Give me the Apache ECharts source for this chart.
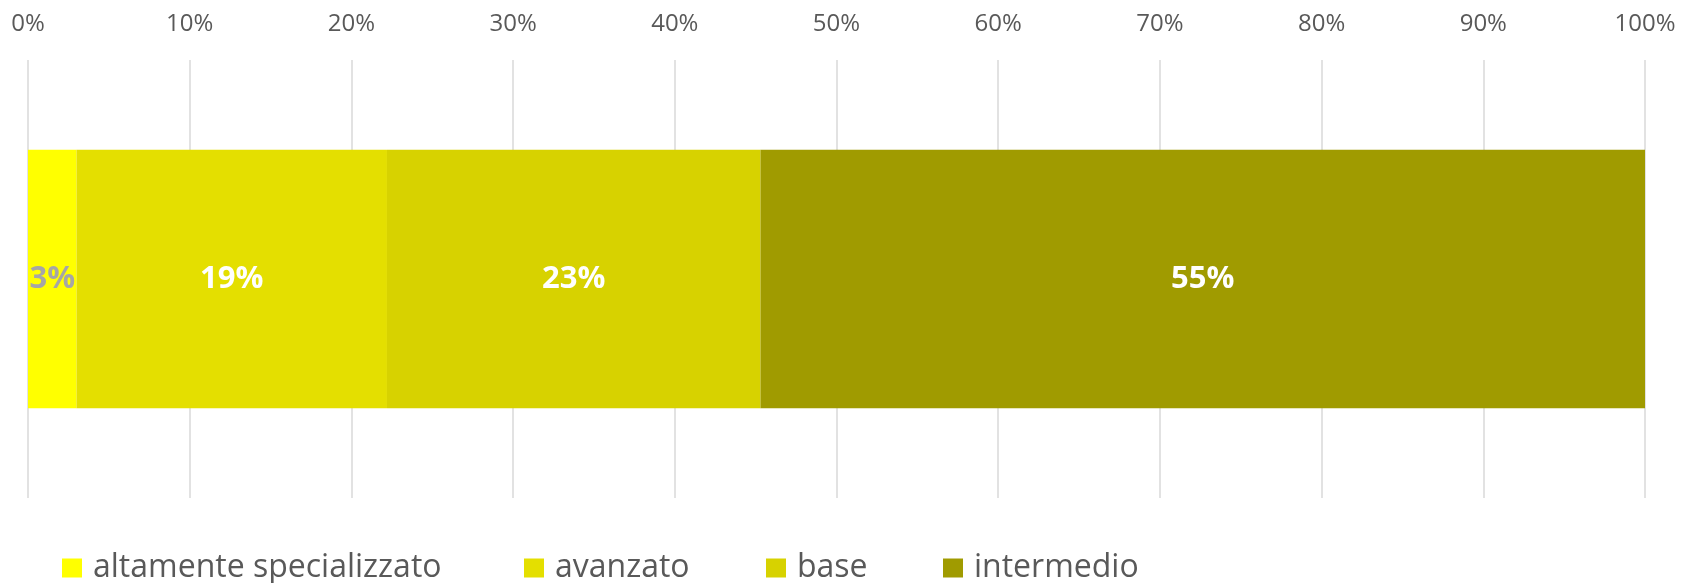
<!DOCTYPE html>
<html>
<head>
<meta charset="utf-8">
<script src="https://cdn.jsdelivr.net/npm/echarts@6/dist/echarts.min.js"></script>
<style>
html,body{margin:0;padding:0;background:#fff;}
#chart{width:1683px;height:583px;}
</style>
</head>
<body>
<div id="chart"></div>
<script>
const categories = ['Totale'];
const seriesNames = ['altamente specializzato', 'avanzato', 'base', 'intermedio'];
const altamente = [3.0];
const avanzato = [19.2];
const base = [23.1];
const intermedio = [54.7];
const tickValues = [0, 10, 20, 30, 40, 50, 60, 70, 80, 90, 100];

const values = [altamente, avanzato, base, intermedio];
const colors = ['#FFFF00', '#E4DF00', '#D7D200', '#A09B00'];
const labelColors = ['#A6A6A6', '#FFFFFF', '#FFFFFF', '#FFFFFF'];
const legendLefts = [62, 524, 766, 943];

const chart = echarts.init(document.getElementById('chart'));
const font = '"Open Sans", "Liberation Sans", sans-serif';

const series = seriesNames.map((name, i) => ({
  name: name,
  type: 'bar',
  stack: 'total',
  barWidth: '59%',
  data: values[i],
  itemStyle: { color: colors[i] },
  label: {
    show: true,
    position: 'inside',
    formatter: p => Math.round(p.value) + '%',
    color: labelColors[i],
    fontFamily: font,
    fontWeight: 'bold',
    fontSize: 31
  },
  emphasis: { disabled: true }
}));

const legends = seriesNames.map((name, i) => ({
  data: [name],
  left: legendLefts[i],
  top: 552,
  padding: 0,
  orient: 'horizontal',
  itemWidth: 20,
  itemHeight: 19,
  icon: 'rect',
  selectedMode: false,
  textStyle: {
    fontFamily: font,
    fontSize: 32,
    lineHeight: 32,
    color: '#595959',
    padding: [0, 0, 0, 6]
  }
}));

chart.setOption({
  animation: false,
  backgroundColor: '#fff',
  grid: { left: 28, right: 38, top: 60, bottom: 85, containLabel: false },
  xAxis: {
    type: 'value',
    position: 'top',
    min: 0,
    max: 100,
    interval: 10,
    axisLine: { show: false },
    axisTick: { show: false },
    axisLabel: {
      formatter: v => tickValues.includes(v) ? v + '%' : '',
      fontFamily: font,
      fontSize: 24,
      color: '#595959',
      margin: 24
    },
    splitLine: { show: true, lineStyle: { color: '#D9D9D9', width: 1.5 } }
  },
  yAxis: {
    type: 'category',
    data: categories,
    axisLine: { show: false },
    axisTick: { show: false },
    axisLabel: { show: false },
    splitLine: { show: false }
  },
  legend: legends,
  series: series
});
</script>
</body>
</html>
